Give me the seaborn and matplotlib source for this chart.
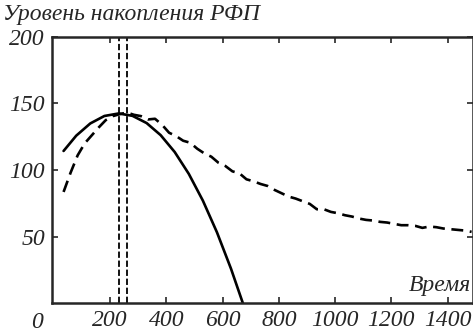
import numpy as np
import matplotlib
matplotlib.use("Agg")
import matplotlib.pyplot as plt
import seaborn as sns
import pandas as pd

# model curve (solid)
model_t = [35, 80, 130, 180, 231, 280, 330, 380, 430, 480, 530, 580, 630, 672]
model_y = [114.3, 125.8, 135.0, 140.6, 142.5, 140.7, 135.3, 126.2, 113.5, 97.1,
           77.0, 53.2, 25.8, 0.0]

# measured curve (dashed)
meas_t = list(range(35, 1486, 25))
meas_y = [83.5, 98, 111, 120, 126, 132, 137.5, 140.5, 142, 143.2,
          141.5, 140.5, 138, 138.5, 134, 128, 125.5, 122, 120.5, 116,
          112.5, 110, 105.5, 103, 99, 97.5, 93, 91.5, 89.5, 88,
          85, 82.5, 80, 78.5, 76.5, 74.5, 70.5, 70.5, 68.5, 67.5,
          66, 65, 63.5, 62.5, 62, 61, 60.5, 59.5, 58.5, 58.5,
          58, 56.5, 57.5, 57, 56, 55.5, 55, 54.5, 53.5]

peak_marks = [231, 259]
xtick_vals = [200, 400, 600, 800, 1000, 1200, 1400]
ytick_vals = [50, 100, 150, 200]

sns.set_style("ticks")
plt.rcParams['font.family'] = ['Liberation Serif', 'DejaVu Serif']
plt.rcParams['font.style'] = 'italic'

fig = plt.figure(figsize=(4.73, 3.33), dpi=100)
ax = fig.add_axes([0.110, 0.090, 0.890, 0.799])

df_model = pd.DataFrame({"t": model_t, "y": model_y})
df_meas = pd.DataFrame({"t": meas_t, "y": meas_y})

sns.lineplot(data=df_model, x="t", y="y", ax=ax, color="black", lw=1.9)
sns.lineplot(data=df_meas, x="t", y="y", ax=ax, color="black", lw=1.9,
             dashes=False, linestyle=(0, (4.5, 2.5)))
for xv in peak_marks:
    ax.axvline(xv, color="black", lw=1.3, linestyle=(0, (3.5, 1.5)))

ax.set_xlim(-6, 1490)
ax.set_ylim(0, 200)
fs = 17
ax.set_xticks(xtick_vals, labels=[str(v) for v in xtick_vals],
              fontstyle="italic", fontsize=fs)
ax.set_yticks(ytick_vals, labels=[str(v) for v in ytick_vals],
              fontstyle="italic", fontsize=fs)
ax.set_xlabel("")
ax.set_ylabel("")
ax.tick_params(direction="in", top=True, right=True, length=4, width=1.2,
               pad=5)
for sp in ax.spines.values():
    sp.set_linewidth(1.8)

ax.text(-58, -0.072, "0", transform=ax.get_xaxis_transform(), ha="center",
        va="center", fontsize=fs, style="italic")
ax.text(0.995, 0.065, "Время", transform=ax.transAxes, ha="right",
        va="center", fontsize=fs, style="italic")
fig.text(0.006, 0.955, "Уровень накопления РФП", ha="left", va="center",
         fontsize=fs, style="italic")

fig.savefig("out.png", dpi=100)
